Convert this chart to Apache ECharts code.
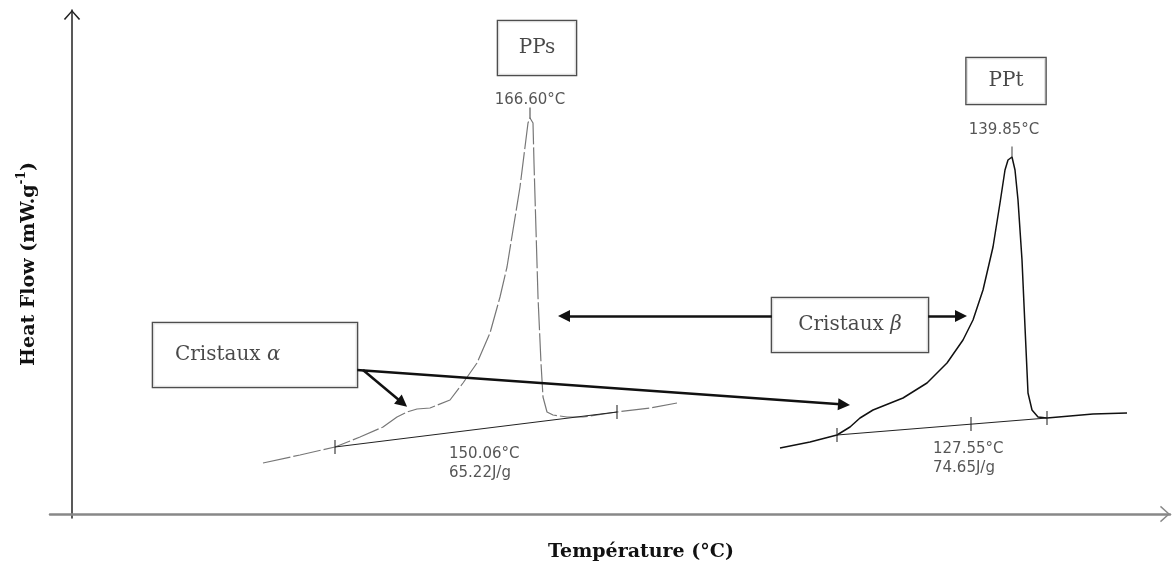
<!DOCTYPE html>
<html>
<head>
<meta charset="utf-8">
<script src="https://cdn.jsdelivr.net/npm/echarts@6/dist/echarts.min.js"></script>
<style>
html,body{margin:0;padding:0;background:#fff}
#chart{width:1172px;height:570px}
</style>
</head>
<body>
<div id="chart"></div>
<script>
// DSC melting endotherms of PPs and PPt, heat flow vs temperature.
// Both traces are drawn on a shared arbitrary-unit frame (no scale shown).

const ppsCurve = [
  [191,51],[228,59],[263,67],[288,77],[311,87],[325,97],[335,102],[345,105],
  [358,106],[378,114],[391,131],[405,151],[418,181],[428,217],[435,247],
  [441,284],[448,327],[453,367],[456,391],[458,396],[461,391],[462,351],
  [464,284],[466,217],[469,151],[471,117],[475,102],[481,99],[495,97],
  [511,97],[545,102],[578,106],[605,111]
];
const pptCurve = [
  [708,66],[738,72],[765,79],[778,87],[788,96],[801,104],[831,116],[855,131],
  [875,151],[891,174],[901,194],[911,224],[921,267],[928,311],[933,344],
  [936,354],[940,357],[943,344],[946,314],[950,254],[953,187],[956,121],
  [960,104],[966,97],[975,96],[1021,100],[1055,101]
];
const ppsBaseline = [[263,67],[545,102]];
const pptBaseline = [[765,79],[975,96]];
const ppsLimits = [[263,67],[545,102]];
const pptLimits = [[765,79],[899,90],[975,96]];
const peakPoints = [[458,396],[940,357]];

const sampleNames = ['PPs', 'PPt'];
const peakTemps = ['166.60°C', '139.85°C'];
const onsetTemps = ['150.06°C', '127.55°C'];
const enthalpies = ['65.22J/g', '74.65J/g'];
const phaseNames = ['Cristaux α', 'Cristaux β'];

// ---- layout of the annotations (frame units) ----
const sampleBoxes = [
  { at: [465, 466], w: 78, h: 54 },
  { at: [934, 433], w: 79, h: 46 }
];
const peakLabelAt = [[458, 414], [932, 384]];
const onsetLabelAt = [[377, 50], [861, 55]];
const alphaBox = { at: [81, 159], w: 204, h: 64, pad: 22 };
const betaBox = { at: [778, 189], w: 156, h: 54 };
// arrow shafts end where the head's centre sits
const arrows = [
  [[700, 198], [492, 198]],
  [[856, 198], [889, 198]],
  [[285, 144], [772, 109.4]],
  [[291, 144], [330.5, 111]]
];

const serif = 'DejaVu Serif';
const sans = 'DejaVu Sans';
const chevron = 'path://M0,10 L9,0 L18,10 L16.6,11 L9,2.3 L1.4,11 Z';

const boxLabel = (text, w, h, extra) => Object.assign({
  show: true, position: 'inside', formatter: text,
  width: w, height: h, lineHeight: h, padding: 0,
  align: 'center', verticalAlign: 'middle',
  backgroundColor: '#fff', borderColor: '#222', borderWidth: 1.3,
  fontFamily: serif, fontSize: 20, color: '#1a1a1a'
}, extra || {});

const greekRich = {
  g: { fontFamily: serif, fontSize: 20, fontStyle: 'italic', color: '#1a1a1a' }
};
const phaseText = (s) => s.replace(/([αβ])/, '{g|$1}');

const notes = [
  { value: sampleBoxes[0].at, label: boxLabel(sampleNames[0], sampleBoxes[0].w, sampleBoxes[0].h) },
  { value: sampleBoxes[1].at, label: boxLabel(sampleNames[1], sampleBoxes[1].w, sampleBoxes[1].h) },
  { value: alphaBox.at, label: boxLabel(phaseText(phaseNames[0]), alphaBox.w - alphaBox.pad, alphaBox.h,
      { align: 'left', padding: [0, 0, 0, alphaBox.pad], rich: greekRich }) },
  { value: betaBox.at, label: boxLabel(phaseText(phaseNames[1]), betaBox.w, betaBox.h, { rich: greekRich }) }
];

const valueLabels = [];
for (let i = 0; i < 2; i++) {
  valueLabels.push({
    value: peakLabelAt[i],
    label: { show: true, position: 'inside', formatter: peakTemps[i], align: 'center',
      verticalAlign: 'middle', fontFamily: sans, fontSize: 15, color: '#2a2a2a' }
  });
  valueLabels.push({
    value: onsetLabelAt[i],
    label: { show: true, position: 'inside', formatter: onsetTemps[i] + '\n' + enthalpies[i],
      align: 'left', verticalAlign: 'middle', lineHeight: 19,
      fontFamily: sans, fontSize: 15, color: '#2a2a2a' }
  });
}

const chart = echarts.init(document.getElementById('chart'), null, { renderer: 'canvas' });

chart.setOption({
  animation: false,
  backgroundColor: '#fff',
  grid: { left: 50, right: 2, top: 10, bottom: 52, containLabel: false, outerBoundsMode: 'none' },
  xAxis: {
    type: 'value', min: -22, max: 1098,
    name: 'Température (°C)', nameLocation: 'middle', nameGap: 25,
    nameTextStyle: { fontFamily: serif, fontWeight: 'bold', fontSize: 19, color: '#111', padding: [0, 0, 0, 62] },
    axisLine: { show: true, onZero: true, lineStyle: { color: '#888', width: 2.5 },
      symbol: ['none', chevron], symbolSize: [18, 10], symbolOffset: [0, -5] },
    axisTick: { show: false }, axisLabel: { show: false }, splitLine: { show: false }
  },
  yAxis: {
    type: 'value', min: -4, max: 504,
    name: 'Heat Flow (mW.g{sup|-1})', nameLocation: 'middle', nameGap: 8,
    nameTextStyle: { fontFamily: serif, fontWeight: 'bold', fontSize: 19, color: '#111', lineHeight: 26,
      rich: { sup: { fontFamily: serif, fontWeight: 'bold', fontSize: 12, color: '#111', verticalAlign: 'top', lineHeight: 26 } } },
    axisLine: { show: true, onZero: true, lineStyle: { color: '#222', width: 1.5 },
      symbol: ['none', chevron], symbolSize: [18, 10], symbolOffset: [0, -5] },
    axisTick: { show: false }, axisLabel: { show: false }, splitLine: { show: false }
  },
  series: [
    { name: 'PPs', type: 'line', data: ppsCurve, showSymbol: false, z: 2,
      lineStyle: { color: '#777', width: 1.2, type: [28, 3] } },
    { name: 'PPt', type: 'line', data: pptCurve, showSymbol: false, z: 2,
      lineStyle: { color: '#111', width: 1.5 } },
    { name: 'PPs baseline', type: 'line', data: ppsBaseline, showSymbol: false, z: 2,
      lineStyle: { color: '#222', width: 1 } },
    { name: 'PPt baseline', type: 'line', data: pptBaseline, showSymbol: false, z: 2,
      lineStyle: { color: '#222', width: 1.2 } },
    { name: 'limits', type: 'scatter', data: ppsLimits.concat(pptLimits), z: 3,
      symbol: 'rect', symbolSize: [1.3, 14], itemStyle: { color: '#222' } },
    { name: 'peaks', type: 'scatter', data: peakPoints, z: 3,
      symbol: 'rect', symbolSize: [1.2, 11], symbolOffset: [0, -5], itemStyle: { color: '#333' } },
    { name: 'arrows', type: 'lines', coordinateSystem: 'cartesian2d', z: 4,
      data: arrows.map(c => ({ coords: c })),
      symbol: ['none', 'triangle'], symbolSize: 12,
      lineStyle: { color: '#111', width: 2.5, opacity: 1 } },
    { name: 'values', type: 'scatter', data: valueLabels, symbolSize: 0, z: 5, silent: true },
    { name: 'boxes', type: 'scatter', data: notes, symbolSize: 0, z: 6, silent: true }
  ]
});
</script>
</body>
</html>
